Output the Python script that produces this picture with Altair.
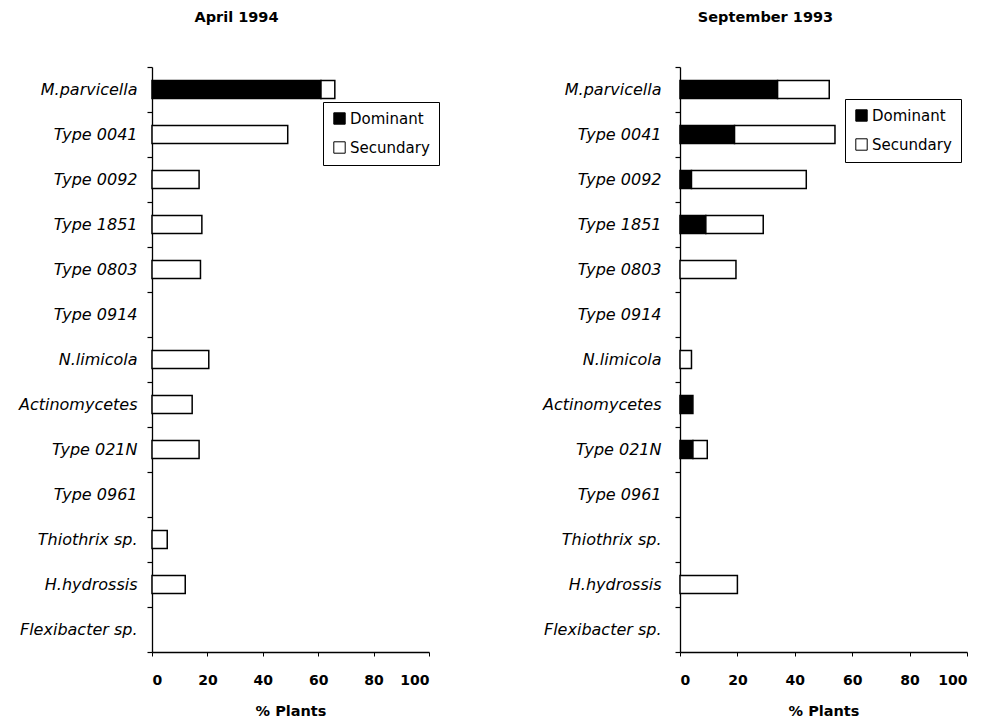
import altair as alt
import pandas as pd

categories = ["M.parvicella", "Type 0041", "Type 0092", "Type 1851", "Type 0803",
              "Type 0914", "N.limicola", "Actinomycetes", "Type 021N", "Type 0961",
              "Thiothrix sp.", "H.hydrossis", "Flexibacter sp."]

# April 1994 (% plants)
april_dominant = [61, 0, 0, 0, 0, 0, 0, 0, 0, 0, 0, 0, 0]
april_secundary = [5, 49, 17, 18, 17.5, 0, 20.5, 14.5, 17, 0, 5.5, 12, 0]

# September 1993 (% plants)
sept_dominant = [34, 19, 4, 9, 0, 0, 0, 4.5, 4.5, 0, 0, 0, 0]
sept_secundary = [18, 35, 40, 20, 19.5, 0, 4, 0, 5, 0, 0, 20, 0]

series = ["Dominant", "Secundary"]
FONT = "DejaVu Sans"


def long_table(dom, sec):
    rows = []
    for c, d, s in zip(categories, dom, sec):
        if d > 0:
            rows.append({"cat": c, "type": "Dominant", "val": d, "ord": 0})
        if s > 0:
            rows.append({"cat": c, "type": "Secundary", "val": s, "ord": 1})
    return pd.DataFrame(rows)


def panel(df, title, width, dx, lab_pad, leg_x, leg_y):
    return alt.Chart(df).mark_bar(stroke="black", strokeWidth=1.5,
                                  height=alt.RelativeBandSize(0.4)).encode(
        y=alt.Y("cat:N", scale=alt.Scale(domain=categories, paddingInner=0, paddingOuter=0),
                axis=alt.Axis(title=None, tickBand="extent", labelFont=FONT, labelFontStyle="italic",
                              labelFontSize=16, labelColor="black", labelPadding=lab_pad,
                              tickSize=5, tickColor="black", domainColor="black",
                              domainWidth=1.3, tickWidth=1.2, labelLimit=300)),
        x=alt.X("val:Q", stack="zero", scale=alt.Scale(domain=[0, 100], nice=False),
                axis=alt.Axis(title="% Plants", values=[0, 20, 40, 60, 80, 100], grid=False,
                              labelFont=FONT, labelFontWeight="bold", labelFontSize=14,
                              labelColor="black", labelPadding=17, tickSize=4,
                              tickColor="black", domainColor="black", domainWidth=1.3,
                              titleFont=FONT, titleFontWeight="bold", titleFontSize=14.5,
                              titleColor="black", titlePadding=17)),
        fill=alt.Fill("type:N", scale=alt.Scale(domain=series, range=["black", "white"]),
                      legend=alt.Legend(title=None, orient="none", legendX=leg_x, legendY=leg_y,
                                        strokeColor="black", padding=9, fillColor="white",
                                        labelFont=FONT, labelFontSize=15, labelColor="black",
                                        symbolType="square", symbolSize=130,
                                        symbolStrokeColor="black", symbolStrokeWidth=1,
                                        rowPadding=12, labelOffset=3)),
        order=alt.Order("ord:Q"),
    ).properties(
        width=width, height=585,
        title=alt.TitleParams(title, font=FONT, fontSize=14.5, fontWeight="bold", color="black",
                              anchor="middle", dx=dx, offset=34),
    )


left = panel(long_table(april_dominant, april_secundary), "April 1994", 277, -54, 10, 171, 35)
right = panel(long_table(sept_dominant, sept_secundary), "September 1993", 287, -58, 14, 165, 32)

chart = alt.hconcat(left, right, spacing=101).resolve_scale(fill="independent").configure_view(
    stroke="transparent"
).properties(padding={"left": 9, "top": 1, "right": 5, "bottom": 5})

chart.save("out.html", embed_options={"renderer": "svg", "actions": False})
